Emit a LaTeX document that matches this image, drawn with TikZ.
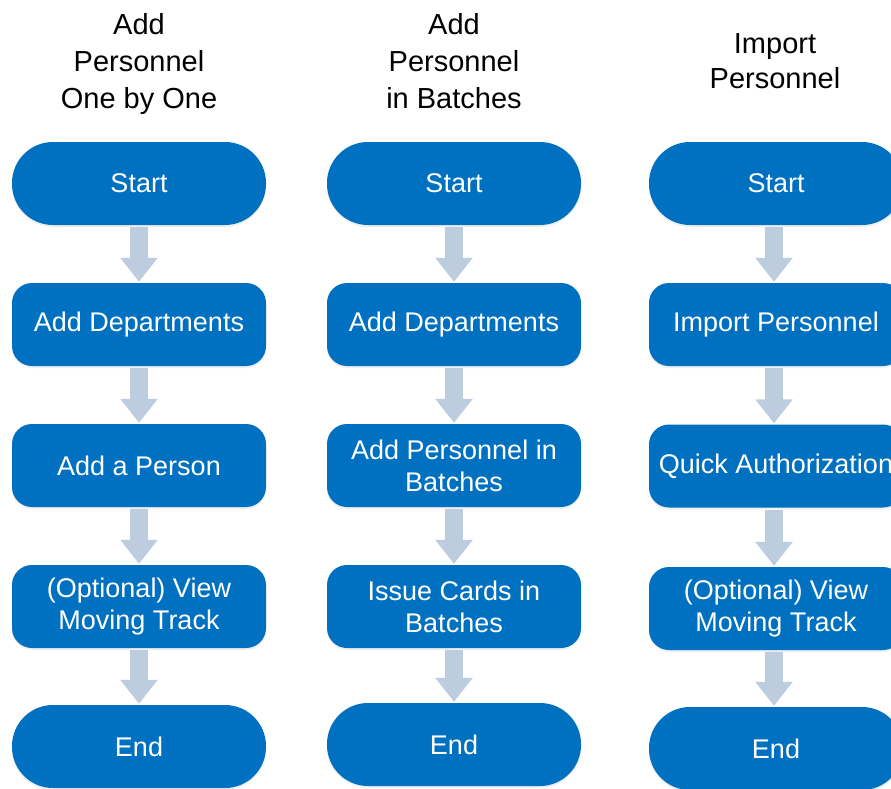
\documentclass[tikz,border=0pt]{standalone}
\usepackage{fontspec}
\setmainfont{Liberation Sans}
\usetikzlibrary{arrows.meta,shadows}
\definecolor{boxblue}{RGB}{0,112,192}
\definecolor{arrowgray}{RGB}{190,204,224}
\tikzset{
  base/.style={fill=boxblue, text=white, minimum width=254pt, minimum height=83pt,
    inner sep=2pt, align=center, font=\fontsize{27pt}{32pt}\selectfont,
    drop shadow={opacity=0.12, shadow xshift=0pt, shadow yshift=-2pt}},
  term/.style={base, rounded corners=41pt},
  proc/.style={base, rounded corners=20pt},
  title/.style={align=center, font=\fontsize{29pt}{37pt}\selectfont},
  flow/.style={arrowgray, line width=18pt, -{Triangle[width=36pt,length=24pt]},
    shorten <=2pt, shorten >=1pt}
}
\begin{document}
\begin{tikzpicture}[x=1pt,y=-1pt]
\useasboundingbox (0,0) rectangle (891,789);
\fill[white] (0,0) rectangle (891,789);
% titles
\node[title] (t1) at (139,64) {Add\\Personnel\\One by One};
\node[title] (t2) at (454,61) {Add\\Personnel\\in Batches};
\node[title,font=\fontsize{29pt}{35pt}\selectfont] (t3) at (775,61.5) {Import\\Personnel};
% column 1
\node[term] (a1) at (139,183.5) {Start};
\node[proc] (a2) at (139,324.5) {Add Departments};
\node[proc] (a3) at (139,465.5) {Add a Person};
\node[proc] (a4) at (139,606.5) {(Optional) View\\Moving Track};
\node[term] (a5) at (139,746.5) {End};
% column 2
\node[term] (b1) at (454,183.5) {Start};
\node[proc] (b2) at (454,324.5) {Add Departments};
\node[proc] (b3) at (454,465.5) {Add Personnel in\\Batches};
\node[proc] (b4) at (454,606.5) {Issue Cards in\\Batches};
\node[term] (b5) at (454,744.5) {End};
% column 3
\node[term] (c1) at (776,183.5) {Start};
\node[proc] (c2) at (776,324.5) {Import Personnel};
\node[proc] (c3) at (776,466) {Quick Authorization};
\node[proc] (c4) at (776,608.5) {(Optional) View\\Moving Track};
\node[term] (c5) at (776,748.5) {End};
% arrows
\foreach \c in {a,b}{
  \draw[flow] (\c1.south) -- (\c2.north);
  \draw[flow] (\c2.south) -- (\c3.north);
  \draw[flow] (\c3.south) -- (\c4.north);
  \draw[flow] (\c4.south) -- (\c5.north);
}
\draw[flow] ([xshift=-2pt]c1.south) -- ([xshift=-2pt]c2.north);
\draw[flow] ([xshift=-2pt]c2.south) -- ([xshift=-2pt]c3.north);
\draw[flow] ([xshift=-2pt]c3.south) -- ([xshift=-2pt]c4.north);
\draw[flow] ([xshift=-2pt]c4.south) -- ([xshift=-2pt]c5.north);
\end{tikzpicture}
\end{document}
